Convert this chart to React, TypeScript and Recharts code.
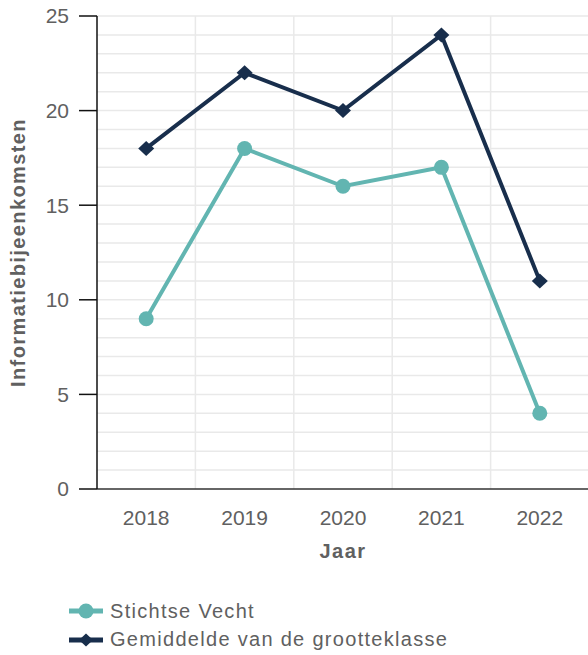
import React from 'react';
import { LineChart, Line, XAxis, YAxis, CartesianGrid } from 'recharts';

const years = ['2018', '2019', '2020', '2021', '2022'];
const stichtseVecht = [9, 18, 16, 17, 4];
const gemiddelde = [18, 22, 20, 24, 11];
const yTicks = [0, 5, 10, 15, 20, 25];
const seriesNames = ['Stichtse Vecht', 'Gemiddelde van de grootteklasse'];
const xTitle = 'Jaar';
const yTitle = 'Informatiebijeenkomsten';

const TEAL = '#62b5b1';
const NAVY = '#182e4c';
const TEXT = '#606060';
const FONT = '"Liberation Sans", Arial, sans-serif';

const data = years.map((y, i) => ({ year: y, sv: stichtseVecht[i], gem: gemiddelde[i] }));

const Diamond = (props: any) => {
  const { cx, cy, key } = props;
  if (cx == null || cy == null) return null;
  const w = 8, h = 7.5;
  return <path key={key} d={`M${cx},${cy - h}L${cx + w},${cy}L${cx},${cy + h}L${cx - w},${cy}Z`} fill={NAVY} />;
};

const YTitle = (props: any) => {
  const vb = props.viewBox || {};
  const cy = vb.y + vb.height / 2;
  const x = 18;
  return (
    <text x={x} y={cy} transform={`rotate(-90, ${x}, ${cy})`} textAnchor="middle" dominantBaseline="central"
      fill={TEXT} fontFamily={FONT} fontWeight="bold" fontSize={20} letterSpacing={1.4}>
      {yTitle}
    </text>
  );
};

const XTitle = (props: any) => {
  const vb = props.viewBox || {};
  const cx = vb.x + vb.width / 2;
  return (
    <text x={cx} y={558} textAnchor="middle" fill={TEXT} fontFamily={FONT} fontWeight="bold" fontSize={20} letterSpacing={1.5}>
      {xTitle}
    </text>
  );
};

export default function App() {
  const maxY = yTicks[yTicks.length - 1];
  const gridYs = Array.from({ length: maxY }, (_, i) => i + 1);
  return (
    <div style={{ position: 'absolute', left: 0, top: 0, width: 588, height: 655, background: '#fff', overflow: 'hidden' }}>
      <LineChart width={589} height={655} data={data} margin={{ top: 16, right: 0, bottom: 96, left: 0 }}>
        <CartesianGrid
          stroke="#e9e9e9"
          strokeWidth={1.5}
          horizontalCoordinatesGenerator={({ offset }: any) =>
            gridYs.map((v) => offset.top + offset.height * (1 - v / maxY))
          }
          verticalCoordinatesGenerator={({ offset }: any) =>
            years.slice(1).map((_, i) => offset.left + (offset.width * (i + 1)) / years.length)
          }
        />
        <XAxis
          dataKey="year"
          scale="band"
          height={70}
          axisLine={{ stroke: '#333', strokeWidth: 1.5 }}
          tickLine={false}
          tickMargin={15}
          tick={{ fill: TEXT, fontSize: 21, fontFamily: FONT }}
          label={<XTitle />}
        />
        <YAxis
          domain={[0, maxY]}
          ticks={yTicks}
          width={97}
          axisLine={{ stroke: '#111', strokeWidth: 1.5 }}
          tickLine={{ stroke: '#111', strokeWidth: 1.5 }}
          tickSize={18}
          tickMargin={10}
          tick={{ fill: TEXT, fontSize: 21, fontFamily: FONT }}
          label={<YTitle />}
        />
        <Line
          dataKey="sv"
          name={seriesNames[0]}
          stroke={TEAL}
          strokeWidth={4}
          dot={{ r: 7.5, fill: TEAL, stroke: 'none' }}
          isAnimationActive={false}
        />
        <Line
          dataKey="gem"
          name={seriesNames[1]}
          stroke={NAVY}
          strokeWidth={4}
          dot={Diamond}
          isAnimationActive={false}
        />
      </LineChart>
      <div style={{ position: 'absolute', left: 68, top: 597, fontFamily: FONT, fontSize: 20, color: TEXT, letterSpacing: 1.3 }}>
        {[0, 1].map((i) => (
          <div key={i} style={{ display: 'flex', alignItems: 'center', height: 28.5, whiteSpace: 'nowrap' }}>
            <svg width={36} height={20} style={{ marginRight: 6 }}>
              <line x1={1} y1={10} x2={35} y2={10} stroke={i === 0 ? TEAL : NAVY} strokeWidth={5} />
              {i === 0 ? (
                <circle cx={18} cy={10} r={7.5} fill={TEAL} />
              ) : (
                <path d="M18,3.5L25,10L18,16.5L11,10Z" fill={NAVY} />
              )}
            </svg>
            <span>{seriesNames[i]}</span>
          </div>
        ))}
      </div>
    </div>
  );
}
